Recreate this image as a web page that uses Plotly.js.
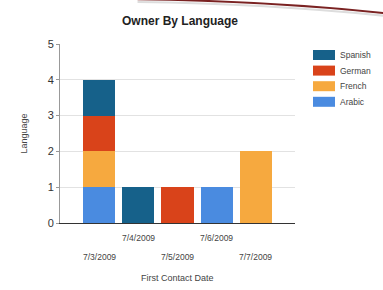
<!DOCTYPE html>
<html><head><meta charset="utf-8">
<script src="https://cdn.plot.ly/plotly-3.0.1.min.js"></script>
<style>html,body{margin:0;padding:0;background:#fff}#c{width:383px;height:290px}</style>
</head><body><div id="c"></div>
<script>
const dates = ["7/3/2009","7/4/2009","7/5/2009","7/6/2009","7/7/2009"];
const tickRow = [1,0,1,0,1]; // staggered label rows
const arabic  = [1,0,0,1,0];
const french  = [1,0,0,0,2];
const german  = [1,0,1,0,0];
const spanish = [1,1,0,0,0];
const seriesNames = ["Arabic","French","German","Spanish"];
const seriesColors = ["#4a8be0","#f6a93f","#d9431a","#16618a"];
const seriesValues = [arabic, french, german, spanish];

const xi = dates.map((d,i)=>i);
const traces = seriesValues.map((v,k)=>({
  type:"bar", x:xi, y:v, name:seriesNames[k],
  marker:{color:seriesColors[k], line:{width:0}},
  width:0.82, hoverinfo:"skip", showlegend:false
}));

const annotations = [];
const shapes = [{type:"path", xref:"paper", yref:"paper",
  path:"M 0.33 1.25 Q 0.9 1.24 1.4 1.17", line:{color:"#7a2222", width:2}},
  {type:"path", xref:"paper", yref:"paper",
  path:"M 0.33 1.235 Q 0.9 1.225 1.4 1.155", line:{color:"#dddddd", width:2}}];

dates.forEach((d,i)=>{
  annotations.push({x:i, y:0, xref:"x", yref:"paper", text:d, showarrow:false,
    xanchor:"center", yanchor:"middle", yshift: tickRow[i] ? -34 : -15,
    font:{size:8.5, color:"#444"}});
});
annotations.push({x:0.5, y:0, xref:"paper", yref:"paper", text:"First Contact Date",
  showarrow:false, xanchor:"center", yanchor:"middle", yshift:-55,
  font:{size:9, color:"#444"}});

// manual legend (top-to-bottom: reverse of stacking order)
const legTop = 55, legStep = 15.6;
for (let j=0; j<seriesNames.length; j++){
  const k = seriesNames.length-1-j;
  const cy = legTop + j*legStep;
  const yp = (223-cy)/179, h = 5/179;
  shapes.push({type:"rect", xref:"paper", yref:"paper",
    x0:(313-60)/235, x1:(335-60)/235, y0:yp-h, y1:yp+h,
    fillcolor:seriesColors[k], line:{width:0}});
  annotations.push({x:(338-60)/235, y:yp, xref:"paper", yref:"paper", text:seriesNames[k],
    showarrow:false, xanchor:"left", yanchor:"middle", font:{size:8.5, color:"#444"}});
}

const layout = {
  width:383, height:290,
  margin:{l:60, r:88, t:44, b:67},
  paper_bgcolor:"#fff", plot_bgcolor:"#fff",
  barmode:"stack", showlegend:false,
  font:{family:"Liberation Sans, Arial, sans-serif", color:"#333"},
  title:{text:"<b>Owner By Language</b>", x:0.47, xanchor:"center", y:0.93, yanchor:"middle",
         font:{size:12, color:"#222"}},
  xaxis:{range:[-1,5], tickvals:xi, showticklabels:false,
         showline:true, linecolor:"#333", linewidth:1.2, showgrid:false, zeroline:false, ticks:""},
  yaxis:{range:[0,5], dtick:1, tickfont:{size:11, color:"#333"},
         showline:true, linecolor:"#999", linewidth:1, gridcolor:"#e2e2e2", zeroline:false,
         ticks:"outside", ticklen:3, tickcolor:"#999",
         title:{text:"Language", font:{size:9, color:"#444"}, standoff:18}},
  annotations:annotations, shapes:shapes
};
Plotly.newPlot("c", traces, layout, {staticPlot:true, displayModeBar:false});
</script></body></html>
